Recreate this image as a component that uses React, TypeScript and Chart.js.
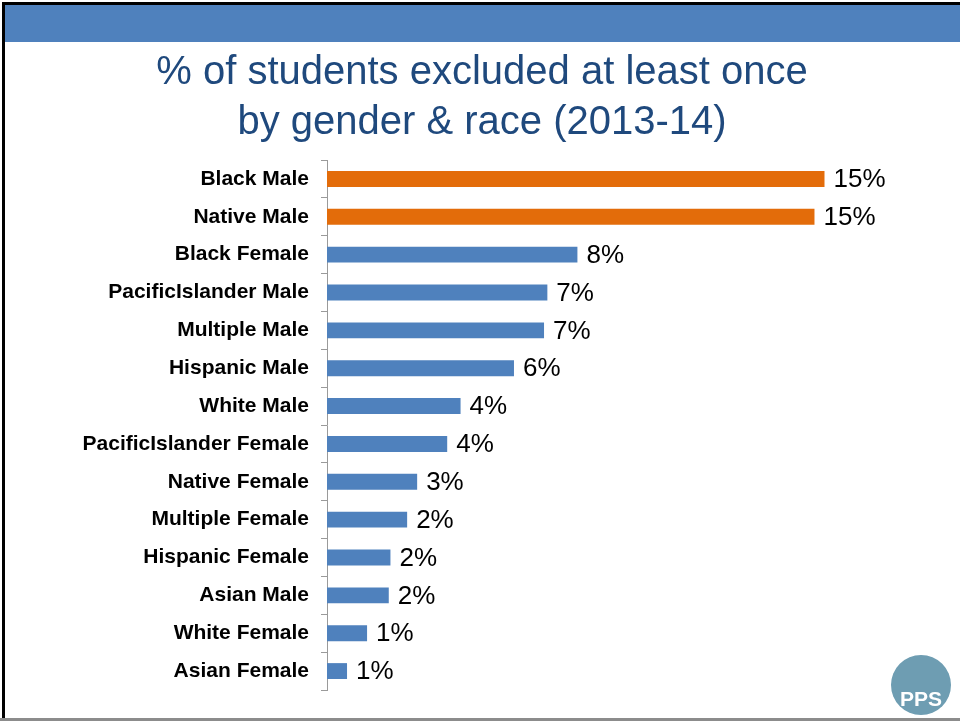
import React, { useEffect, useRef } from "react";
import { Chart, registerables } from "chart.js";

Chart.register(...registerables);

const categories = [
  "Black Male",
  "Native Male",
  "Black Female",
  "PacificIslander Male",
  "Multiple Male",
  "Hispanic Male",
  "White Male",
  "PacificIslander Female",
  "Native Female",
  "Multiple Female",
  "Hispanic Female",
  "Asian Male",
  "White Female",
  "Asian Female",
];

const values = [14.9, 14.6, 7.5, 6.6, 6.5, 5.6, 4.0, 3.6, 2.7, 2.4, 1.9, 1.85, 1.2, 0.6];

const highlighted = ["Black Male", "Native Male"];

const titleLines = ["% of students excluded at least once", "by gender & race (2013-14)"];

const ORANGE = "#E36C0A";
const BLUE = "#4F81BD";

const valueLabelPlugin = {
  id: "valueLabels",
  afterDatasetsDraw(chart: any) {
    const ctx = chart.ctx;
    const meta = chart.getDatasetMeta(0);
    ctx.save();
    ctx.font = "26px 'Liberation Sans', Arial, sans-serif";
    ctx.fillStyle = "#000";
    ctx.textAlign = "left";
    ctx.textBaseline = "middle";
    meta.data.forEach((el: any, i: number) => {
      const v = chart.data.datasets[0].data[i] as number;
      ctx.fillText(Math.round(v) + "%", el.x + 9, el.y + 1);
    });
    ctx.restore();
  },
};

export default function App() {
  const ref = useRef<HTMLCanvasElement>(null);

  useEffect(() => {
    if (!ref.current) return;
    const chart = new Chart(ref.current, {
      type: "bar",
      data: {
        labels: categories,
        datasets: [
          {
            data: values,
            backgroundColor: categories.map((c) => (highlighted.includes(c) ? ORANGE : BLUE)),
            barPercentage: 0.42,
            categoryPercentage: 1,
          },
        ],
      },
      options: {
        animation: false,
        responsive: false,
        indexAxis: "y",
        layout: { padding: { top: 48, left: 36, right: 32, bottom: 31 } },
        plugins: {
          legend: { display: false },
          tooltip: { enabled: false },
          title: {
            display: true,
            text: titleLines,
            color: "#1F497D",
            font: { size: 40, family: "'Liberation Sans', Arial, sans-serif", weight: "normal", lineHeight: 1.25 },
            padding: { top: 0, bottom: 12 },
          },
        },
        scales: {
          x: { display: false, min: 0, max: 18 },
          y: {
            afterFit: (s: any) => {
              s.width = 291;
            },
            grid: { drawOnChartArea: false, tickLength: 6, color: "#9a9a9a" },
            border: { color: "#9a9a9a" },
            ticks: {
              color: "#000",
              padding: 12,
              font: { size: 21, weight: "bold", family: "'Liberation Sans', Arial, sans-serif" },
            },
          },
        },
      },
      plugins: [valueLabelPlugin],
    });
    return () => chart.destroy();
  }, []);

  return (
    <div style={{ position: "fixed", left: 0, top: 0, width: 960, height: 721, background: "#fff", overflow: "hidden" }}>
      <div style={{ position: "absolute", left: 2, top: 2, width: 958, height: 3, background: "#000" }} />
      <div style={{ position: "absolute", left: 2, top: 2, width: 3, height: 717, background: "#000" }} />
      <div style={{ position: "absolute", left: 5, top: 5, width: 955, height: 37, background: "#4F81BD" }} />
      <div style={{ position: "absolute", left: 0, top: 718, width: 960, height: 3, background: "#8c8c8c" }} />
      <canvas ref={ref} width={960} height={721} style={{ position: "absolute", left: 0, top: 0 }} />
      <div
        style={{
          position: "absolute",
          left: 891,
          top: 655,
          width: 60,
          height: 60,
          borderRadius: "50%",
          background: "#6E9DB2",
          color: "#fff",
          fontFamily: "'Liberation Sans', Arial, sans-serif",
          fontWeight: "bold",
          fontSize: 21,
          display: "flex",
          alignItems: "flex-end",
          justifyContent: "center",
          boxSizing: "border-box",
          paddingBottom: 4,
          lineHeight: "24px",
        }}
      >
        PPS
      </div>
    </div>
  );
}
